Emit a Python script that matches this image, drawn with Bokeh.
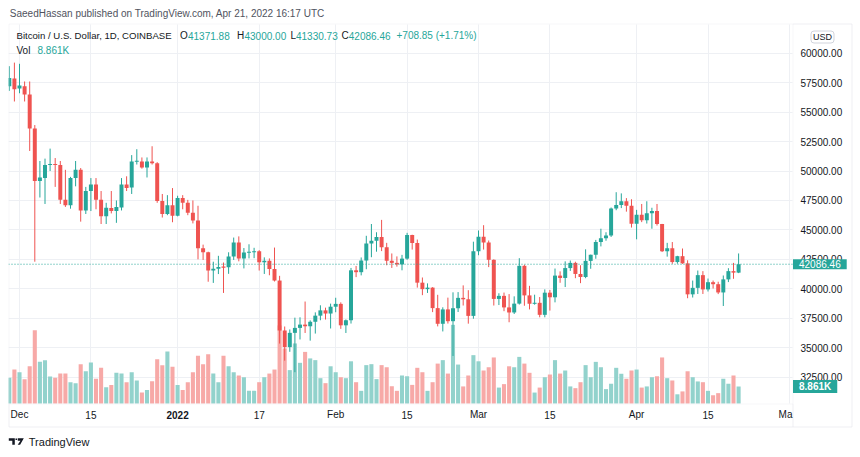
import pandas as pd
from bokeh.plotting import figure
from bokeh.models import (Range1d, FixedTicker, Label, BoxAnnotation, PolyAnnotation,
                          ColumnDataSource, Grid)
from bokeh.embed import file_html
from bokeh.resources import INLINE

# ---------------- data ----------------
dates = pd.date_range("2021-11-29", "2022-04-21", freq="D")

opens = [57200, 57850,
         57000, 57200, 56500, 53600, 49150, 49400, 50500, 50600, 50500, 47550, 47100, 49400, 50100, 46650, 48300,
         48850, 47550, 46150, 46850, 46600, 46900, 48850, 48600, 50800, 50800, 50300, 50800, 50650, 47450, 46350, 47100,
         46200, 47700, 47300, 46450, 45800, 43450, 43100, 41550, 41700, 41850, 41830, 42740, 43920, 42580, 43090, 43100,
         43190, 42250, 42380, 41680, 40700, 36460, 35050, 36260, 36680, 36960, 36820, 37200, 37720, 38170, 37900,
         38480, 38720, 36900, 37330, 41570, 41410, 42400, 43850, 44070, 44400, 43520, 42380, 42200, 42070, 42560, 44560,
         43880, 40520, 39970, 40100, 38360, 37030, 38250, 37250, 38350, 39230, 39110, 37700,
         43180, 44420, 43920, 42460, 39140, 39400, 38420, 37990, 38740, 41950, 39440, 38730, 38810, 37790, 39670, 39280,
         41120, 40920, 41760, 42200, 41260, 41000, 42370, 42880, 43980, 44300, 44520, 46820, 47120, 47440, 47060,
         45530, 46290, 45810, 46410, 46610, 45500, 43180, 43450, 42270, 42770, 42160, 39530, 40080, 41160, 39950, 40560,
         40390, 39690, 40800, 41500, 41371.88]

closes = [57900, 56950,
          57250, 56500, 53600, 49150, 49450, 50500, 50600, 50500, 47550, 47100, 49400, 50100, 46650, 48300, 48850,
          47550, 46150, 46880, 46600, 46950, 48850, 48550, 50800, 50850, 50300, 50800, 50650, 47450, 46350, 47100, 46200,
          47700, 47300, 46450, 45800, 43450, 43100, 41550, 41700, 41850, 41830, 42740, 43920, 42580, 43090, 43100, 43190,
          42250, 42380, 41680, 40700, 36460, 35050, 36260, 36680, 36960, 36820, 37200, 37720, 38170, 37900, 38480,
          38720, 36900, 37330, 41570, 41410, 42400, 43850, 44070, 44400, 43520, 42380, 42200, 42070, 42560, 44560, 43880,
          40520, 39970, 40100, 38360, 37030, 38250, 37250, 38350, 39230, 39110, 37700, 43180,
          44420, 43920, 42460, 39140, 39400, 38420, 37990, 38740, 41950, 39440, 38730, 38810, 37790, 39670, 39280, 41120,
          40920, 41760, 42200, 41260, 41000, 42370, 42880, 43980, 44300, 44520, 46820, 47120, 47440, 47060, 45530,
          46290, 45810, 46410, 46610, 45500, 43180, 43450, 42270, 42770, 42160, 39530, 40080, 41160, 39950, 40560, 40390,
          39690, 40800, 41500, 41371.88, 42086.46]

highs = [58900, 59200,
         59100, 57600, 57600, 53900, 50850, 51050, 51900, 51100, 50850, 50100, 49500, 50850, 50250, 48650, 49400,
         49400, 48300, 47300, 48300, 47500, 49400, 49550, 51350, 51850, 51150, 51150, 52100, 50750, 48050, 47950, 48550,
         47900, 47950, 47550, 47500, 47050, 43750, 43150, 42300, 42800, 42230, 43100, 44350, 44450, 43460, 43780, 43480,
         43280, 42670, 42580, 43500, 41100, 36800, 36550, 37550, 37580, 38920, 37320, 38000, 38600, 38400, 38740,
         39240, 38850, 37400, 41770, 41940, 42660, 44500, 45500, 44800, 45850, 43900, 43000, 42750, 42880, 44750, 44590,
         44180, 40960, 40460, 40140, 39490, 38430, 39250, 39700, 39720, 40290, 39880, 44000,
         44950, 45400, 44100, 42500, 39620, 39680, 39550, 39360, 42600, 42050, 40250, 39500, 39300, 39950, 39900, 41720,
         41480, 42330, 42400, 42300, 42000, 43350, 42900, 44150, 45100, 44800, 46900, 48200, 48100, 47700, 47600,
         46700, 47200, 47430, 46880, 47200, 45510, 43900, 43970, 42800, 43420, 42420, 40700, 41550, 41500, 40870, 40700,
         40600, 41130, 41750, 42200, 43000.00]

lows = [56800, 55900,
        56600, 55900, 51700, 42300, 47750, 47200, 50000, 48650, 47200, 46950, 46800, 48700, 45700, 46350, 46600,
        46750, 45500, 45500, 46400, 45600, 46650, 48300, 48050, 50550, 50200, 49450, 50550, 47300, 46050, 46250, 45650,
        46150, 46750, 46250, 45550, 42500, 42450, 40600, 40500, 41250, 39650, 41270, 42450, 42330, 41730, 42580, 42600,
        41550, 41260, 41150, 40620, 35350, 33900, 34650, 32920, 35700, 36250, 35600, 36200, 37330, 37390, 36630,
        38010, 36600, 36250, 37050, 40990, 41140, 41660, 42680, 43150, 43200, 42000, 41770, 41880, 41570, 42460, 43330,
        40100, 39460, 39650, 38020, 36810, 36380, 37050, 34300, 38030, 38580, 37040, 37460,
        42850, 43330, 41840, 38580, 38620, 38100, 37160, 37860, 38660, 38560, 38250, 38650, 37580, 37580, 38150, 38850,
        40510, 40150, 41520, 40900, 40480, 40900, 41700, 42550, 43600, 44080, 44400, 46670, 46850, 46550, 45200,
        44200, 45660, 45540, 45100, 45370, 43120, 42730, 42120, 42130, 42120, 39200, 39260, 39560, 39560, 39770, 40020,
        39550, 38540, 40570, 40850, 41330.73]

# volume in thousands (K)
volume_k = [13.4, 17.7,
            16.3, 12.7, 19.4, 38.2, 21.7, 22.6, 14.1, 13.4, 15.6, 15.6, 11.1, 10.6, 20.5, 16.8, 21.4,
            12.9, 18.6, 8.5, 9.7, 16.0, 15.6, 11.1, 16.3, 12.0, 5.7, 7.1, 11.6, 23.1, 20.0, 27.1, 19.1,
            9.7, 7.1, 11.1, 16.3, 24.9, 20.5, 25.7, 15.6, 11.1, 24.9, 19.4, 16.3, 14.6, 13.7, 6.6, 6.6,
            11.1, 13.7, 15.6, 17.7, 40.7, 28.7, 17.4, 31.3, 21.2, 26.9, 23.5, 22.6, 13.2, 10.6, 19.4,
            16.3, 13.7, 13.2, 22.0, 11.1, 6.6, 20.0, 20.5, 12.7, 20.0, 18.9, 9.0, 6.6, 14.6, 14.2, 9.7,
            18.6, 16.3, 6.6, 11.1, 20.8, 22.6, 15.6, 41.0, 20.3, 8.9, 14.6, 25.2,
            22.0, 17.2, 18.9, 24.0, 8.3, 10.1, 19.4, 18.9, 24.3, 20.8, 16.0, 5.7, 8.3, 13.7, 15.1, 22.6,
            15.6, 17.2, 8.9, 8.0, 11.1, 20.0, 13.7, 21.7, 18.9, 7.5, 10.3, 18.6, 15.5, 12.9, 17.2,
            17.7, 8.3, 8.9, 13.7, 14.2, 24.0, 13.2, 12.0, 4.8, 6.3, 16.8, 13.7, 11.5, 11.1, 6.6, 4.3,
            5.4, 12.9, 10.3, 14.6, 8.861]

price_ticks = [32500, 35000, 37500, 40000, 42500, 45000, 47500, 50000, 52500, 55000, 57500, 60000]
time_tick_dates = ["2021-12-01", "2021-12-15", "2022-01-01", "2022-01-17", "2022-02-01", "2022-02-15",
                   "2022-03-01", "2022-03-15", "2022-04-01", "2022-04-15", "2022-05-01"]
time_tick_labels = ["Dec", "15", "2022", "17", "Feb", "15", "Mar", "15", "Apr", "15", "Ma"]

header_text = "SaeedHassan published on TradingView.com, Apr 21, 2022 16:17 UTC"
symbol_text = "Bitcoin / U.S. Dollar, 1D, COINBASE"
change_text = "+708.85 (+1.71%)"

# ---------------- styling ----------------
FONT = "Liberation Sans"
UP = "#26a69a"
DOWN = "#ef5350"
UP_VOL = "#92d2cc"
DOWN_VOL = "#f7a9a7"
GRID = "#eef0f4"
BORDER = "#e0e3eb"
TXT = "#131722"
DAY = 86400000.0

def ms(ts):
    return float(pd.Timestamp(ts).value // 10**6)

x = [ms(d) for d in dates]
up = [c >= o for o, c in zip(opens, closes)]
MINB = 90.0
btop, bbot = [], []
for o, c in zip(opens, closes):
    t, b = max(o, c), min(o, c)
    if t - b < MINB:
        m = (t + b) / 2
        t, b = m + MINB / 2, m - MINB / 2
    btop.append(t)
    bbot.append(b)

src = ColumnDataSource(dict(
    x=x, open=opens, high=highs, low=lows, close=closes, btop=btop, bbot=bbot,
    vol=volume_k,
    color=[UP if u else DOWN for u in up],
    vcolor=[UP_VOL if u else DOWN_VOL for u in up],
))

# the plot frame covers the whole canvas; pane = x 8..792, y 24..403 (px)
dec1 = ms("2021-12-01")
PX_DAY = 5.1           # px per day
X0 = 19.0              # px of Dec 1
PX_USD = 29.45 / 2500  # px per USD
Y40K = 288.3           # px of 40000
VOL_BASE = 403.0
K_PER_PX = 0.5212

def xdata(px):
    return dec1 + (px - X0) / PX_DAY * DAY

def ydata(py):
    return 40000 + (Y40K - py) / PX_USD

p = figure(width=860, height=457, x_axis_type=None, y_axis_type=None,
           x_range=Range1d(xdata(0), xdata(860)),
           y_range=Range1d(ydata(457), ydata(0)),
           output_backend="svg", toolbar_location=None, title=None, min_border=0)
p.background_fill_color = "white"
p.border_fill_color = "white"
p.outline_line_color = None
p.extra_y_ranges = {"vol": Range1d(-(457 - VOL_BASE) * K_PER_PX, VOL_BASE * K_PER_PX)}

yticker = FixedTicker(ticks=price_ticks)
tick_ms = [ms(t) for t in time_tick_dates]
xticker = FixedTicker(ticks=tick_ms)

p.add_layout(Grid(dimension=0, ticker=xticker, grid_line_color=GRID,
                  cross_bounds=(ydata(403), ydata(24))))
p.add_layout(Grid(dimension=1, ticker=yticker, grid_line_color=GRID,
                  cross_bounds=(xdata(8), xdata(792))))

# volume
p.vbar(x="x", top="vol", bottom=0, width=0.8 * DAY, fill_color="vcolor", line_color=None,
       y_range_name="vol", source=src)
# candles
p.segment(x0="x", y0="high", x1="x", y1="low", line_color="color", line_width=1, source=src)
p.vbar(x="x", top="btop", bottom="bbot", width=0.78 * DAY, fill_color="color", line_color=None, source=src)

last_close = closes[-1]
last_vol = volume_k[-1]

# last price dotted line (inside pane)
p.segment(x0=[xdata(8)], x1=[xdata(792)], y0=[last_close], y1=[last_close],
          line_color=UP, line_dash="1 2", line_width=1)

# white margin left of the pane (clips first candle) and pane / scale borders
p.add_layout(BoxAnnotation(left=0, right=8, top=0, bottom=457, left_units="canvas", right_units="canvas",
                           top_units="canvas", bottom_units="canvas", fill_color="white", fill_alpha=1,
                           line_color=None))

def cbox(l, r, t, b, **kw):
    p.add_layout(BoxAnnotation(left=l, right=r, top=t, bottom=b,
                               left_units="canvas", right_units="canvas", top_units="canvas",
                               bottom_units="canvas", line_width=1, **kw))

cbox(8.5, 851.5, 23.5, 426.5, fill_alpha=0, line_color=BORDER)
cbox(792.5, 851.5, 23.5, 426.5, fill_alpha=0, line_color=BORDER)
cbox(8.5, 792.5, 403.5, 426.5, fill_alpha=0, line_color=BORDER)

def clabel(text, cx, cy, size="10px", color=TXT, style="normal", align="left", **kw):
    lab = Label(x=cx, y=cy, x_units="canvas", y_units="canvas", text=text, text_font=FONT,
                text_font_size=size, text_color=color, text_font_style=style,
                text_baseline="middle", text_align=align, **kw)
    p.add_layout(lab)
    return lab

# price scale labels
for t in price_ticks:
    p.add_layout(Label(x=800, y=t, x_units="canvas", y_units="data", text=f"{t:.2f}",
                       text_font=FONT, text_font_size="10px", text_color=TXT,
                       text_align="left", text_baseline="middle"))
# time scale labels
for t, lab in zip(tick_ms, time_tick_labels):
    bold = lab == "2022"
    align = "right" if lab == "Ma" else "center"
    xx = t if lab != "Ma" else xdata(792)
    p.add_layout(Label(x=xx, y=414, x_units="data", y_units="canvas", text=lab,
                       text_font=FONT, text_font_size="10px", text_font_style="bold" if bold else "normal",
                       text_color=TXT, text_align=align, text_baseline="middle"))

clabel(header_text, 9.3, 13.3, color="#50535e")
clabel(symbol_text, 16, 35, size="9.6px")
legend_vals = [("O", f"{opens[-1]:.2f}", 179.5, 187.5), ("H", f"{highs[-1]:.2f}", 236.5, 244),
               ("L", f"{lows[-1]:.2f}", 290, 295.5), ("C", f"{closes[-1]:.2f}", 341, 348.3)]
for k, v, kx, vx in legend_vals:
    clabel(k, kx, 35)
    clabel(v, vx, 35, color=UP)
clabel(change_text, 396, 35, color=UP)
clabel("Vol", 16, 50)
clabel(f"{last_vol:.3f}K", 37, 50, color=UP)

# USD badge
clabel("USD", 822, 36.5, size="9px", align="center", border_line_color="#d1d4dc", border_radius=3,
       padding=(2, 1))

# price & volume badges on the price scale
p.add_layout(Label(x=792.5, y=last_close, x_units="canvas", y_units="data", text=f"{last_close:.2f}",
                   text_font=FONT, text_font_size="10px", text_color="white",
                   background_fill_color=UP, text_align="left", text_baseline="middle", padding=(6, 1)))
p.add_layout(Label(x=792.5, y=last_vol, x_units="canvas", y_units="data", y_range_name="vol",
                   text=f"{last_vol:.3f}K", text_font=FONT, text_font_size="10px", text_font_style="bold",
                   text_color="white", background_fill_color=UP, text_align="left",
                   text_baseline="middle", padding=(6, 1)))

# TradingView logo
p.add_layout(PolyAnnotation(xs=[8.3, 14.3, 14.3, 11.8, 11.8, 8.3], ys=[437.7, 437.7, 444.3, 444.3, 440.2, 440.2],
                            xs_units="canvas", ys_units="canvas", fill_color=TXT, line_color=None, fill_alpha=1))
p.add_layout(PolyAnnotation(xs=[15.0, 16.6, 16.6, 15.0], ys=[437.9, 437.9, 439.5, 439.5],
                            xs_units="canvas", ys_units="canvas", fill_color=TXT, line_color=None, fill_alpha=1))
p.add_layout(PolyAnnotation(xs=[17.3, 23.3, 19.6, 17.2, 20.0, 17.3], ys=[437.7, 437.7, 444.3, 444.3, 440.2, 440.2],
                            xs_units="canvas", ys_units="canvas", fill_color=TXT, line_color=None, fill_alpha=1))
clabel("TradingView", 28.3, 441, size="11px")

open("out.html", "w").write(file_html(p, INLINE))
